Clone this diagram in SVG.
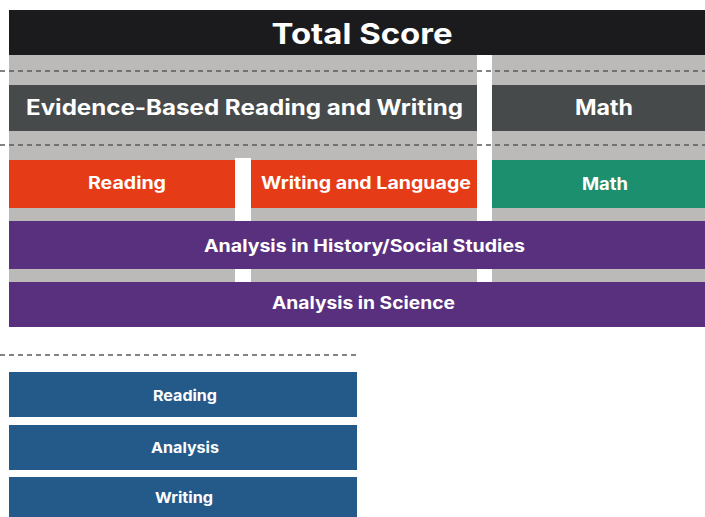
<svg xmlns="http://www.w3.org/2000/svg" width="705" height="517" viewBox="0 0 705 517">
<style>
.t{font-family:Inter,"Liberation Sans",sans-serif;font-weight:700;fill:#fff;text-anchor:middle}
.dash{stroke:#5a5a5a;stroke-width:1.5;stroke-dasharray:5 4;fill:none}
.gap{fill:#fff}
</style>
<rect width="705" height="517" fill="#fff"/>
<rect x="9" y="55" width="696" height="272" fill="#bcb9b9"/>
<g id="gaps">
<rect class="gap" x="477" y="55" width="15" height="166"/>
<rect class="gap" x="235" y="158" width="16" height="63"/>
<rect class="gap" x="477" y="269" width="15" height="13"/>
<rect class="gap" x="235" y="269" width="16" height="13"/>
</g>
<g id="connectors">
<line class="dash" x1="0" y1="71" x2="705" y2="71"/>
<line class="dash" x1="0" y1="145" x2="705" y2="145"/>
<line class="dash" x1="0" y1="355" x2="360" y2="355"/>
</g>
<g id="total">
<rect x="9" y="10" width="696" height="45" fill="#1b1a1c"/>
<text class="t" x="362" y="44" font-size="29" textLength="181" lengthAdjust="spacingAndGlyphs">Total Score</text>
</g>
<g id="ebrw">
<rect x="9" y="85" width="468" height="46" fill="#474a4b"/>
<text class="t" x="244.5" y="115" font-size="21" textLength="437" lengthAdjust="spacingAndGlyphs">Evidence-Based Reading and Writing</text>
</g>
<g id="math1">
<rect x="492" y="85" width="213" height="46" fill="#474a4b"/>
<text class="t" x="604" y="115" font-size="21" textLength="58" lengthAdjust="spacingAndGlyphs">Math</text>
</g>
<g id="reading1">
<rect x="9" y="160" width="226" height="48" fill="#e63b17"/>
<text class="t" x="127" y="189" font-size="17" textLength="78" lengthAdjust="spacingAndGlyphs">Reading</text>
</g>
<g id="writing1">
<rect x="251" y="160" width="226" height="48" fill="#e63b17"/>
<text class="t" x="366" y="189" font-size="17" textLength="210" lengthAdjust="spacingAndGlyphs">Writing and Language</text>
</g>
<g id="math2">
<rect x="492" y="160" width="213" height="48" fill="#1b8f6e"/>
<text class="t" x="605" y="190" font-size="17" textLength="46" lengthAdjust="spacingAndGlyphs">Math</text>
</g>
<g id="history">
<rect x="9" y="221" width="696" height="48" fill="#59307e"/>
<text class="t" x="364.5" y="252" font-size="17" textLength="321" lengthAdjust="spacingAndGlyphs">Analysis in History/Social Studies</text>
</g>
<g id="science">
<rect x="9" y="282" width="696" height="45" fill="#59307e"/>
<text class="t" x="363.5" y="309" font-size="17" textLength="183" lengthAdjust="spacingAndGlyphs">Analysis in Science</text>
</g>
<g id="reading2">
<rect x="9" y="372" width="348" height="45" fill="#245a8a"/>
<text class="t" x="185" y="401" font-size="15" textLength="64" lengthAdjust="spacingAndGlyphs">Reading</text>
</g>
<g id="analysis2">
<rect x="9" y="425" width="348" height="45" fill="#245a8a"/>
<text class="t" x="185" y="453" font-size="15" textLength="68" lengthAdjust="spacingAndGlyphs">Analysis</text>
</g>
<g id="writing2">
<rect x="9" y="477" width="348" height="45" fill="#245a8a"/>
<text class="t" x="184" y="503" font-size="15" textLength="58" lengthAdjust="spacingAndGlyphs">Writing</text>
</g>
</svg>
